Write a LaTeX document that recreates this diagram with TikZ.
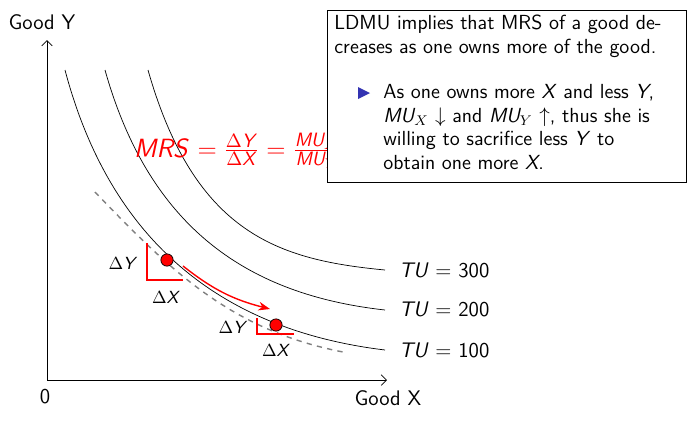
\documentclass[tikz,border=0pt]{standalone}
\renewcommand{\familydefault}{\sfdefault}
\usetikzlibrary{arrows.meta}
\definecolor{bulletblue}{HTML}{3333B2}
\newcommand{\mv}[1]{\textsl{#1}}
\newcommand{\dlt}[1]{$\Delta$\mv{#1}}
\newcommand{\fr}[1]{\mbox{\fontsize{11}{13}\selectfont #1}}

\begin{document}
\begin{tikzpicture}[x=0.02cm,y=-0.02cm,font=\fontsize{10}{12}\selectfont]
		\useasboundingbox (0,0) rectangle (691,424);
		% axes
		\coordinate (origin) at (47,380);
		\coordinate (xend) at (387,380);
		\coordinate (yend) at (47,40);
		\draw[-{Straight Barb[length=3pt]}] (origin) -- (xend);
		\draw[-{Straight Barb[length=3pt]}] (origin) -- (yend);
		\node (goody) at (42,22) {\fontsize{12}{14}\selectfont Good Y};
		\node (goodx) at (388,398) {\fontsize{12}{14}\selectfont Good X};
		\node (zero) at (45,397) {\fontsize{12}{14}\selectfont 0};
		% indifference curves
		\draw (65,70) .. controls (110,240) and (220,330) .. (385,350);
		\draw (105,70) .. controls (150,230) and (250,295) .. (385,310);
		\draw (148,70) .. controls (195,235) and (280,260) .. (385,270);
		\node[anchor=west] (tu300) at (393,270) {\fontsize{12}{14}\selectfont \mv{TU} = 300};
		\node[anchor=west] (tu200) at (393,309) {\fontsize{12}{14}\selectfont \mv{TU} = 200};
		\node[anchor=west] (tu100) at (393,350) {\fontsize{12}{14}\selectfont \mv{TU} = 100};
		% tangent
		\draw[gray,dashed,thick] (95,192) .. controls (170,270) and (230,330) .. (343,352);
		% first point
		\draw[red,thick] (147,243) -- (147,280) -- (183,280);
		\node (dy1) at (123,263) {\dlt{Y}};
		\node (dx1) at (166,297) {\dlt{X}};
		\node[circle,draw,fill=red,inner sep=0pt,minimum size=7pt] (p1) at (167,260) {};
		% second point
		\draw[red,thick] (257,318) -- (257,334) -- (294,334);
		\node (dy2) at (233,327) {\dlt{Y}};
		\node (dx2) at (276,350) {\dlt{X}};
		\node[circle,draw,fill=red,inner sep=0pt,minimum size=7pt] (p2) at (276,325) {};
		\draw[red,thick,-{Stealth}] (183,266) to[bend right=12] (270,309);
		% formula
		\node[red,anchor=west] (mrs) at (128,151) {\fontsize{15}{17}\selectfont \mv{MRS} $=\frac{\fr{\dlt{Y}}}{\fr{\dlt{X}}}=\frac{\fr{\mv{MU$_X$}}}{\fr{\mv{MU$_Y$}}}$};
		% box
		\draw[fill=white] (327,10) rectangle (686,182);
		\node[anchor=north west,align=left,inner sep=0pt,font=\fontsize{11.6}{13.4}\selectfont] (txt) at (334,15)
		{LDMU implies that MRS of a good de-\\creases as one owns more of the good.};
		\node[anchor=north west,align=left,inner sep=0pt,font=\fontsize{11.6}{13.4}\selectfont] (item) at (383,84)
		{As one owns more \mv{X} and less \mv{Y},\\\mv{MU$_X$} $\downarrow$ and \mv{MU$_Y$} $\uparrow$, thus she is\\willing to sacrifice less \mv{Y} to\\obtain one more \mv{X}.};
		\fill[bulletblue] (358,87) -- (370,93) -- (358,99) -- cycle;
\end{tikzpicture}
\end{document}
